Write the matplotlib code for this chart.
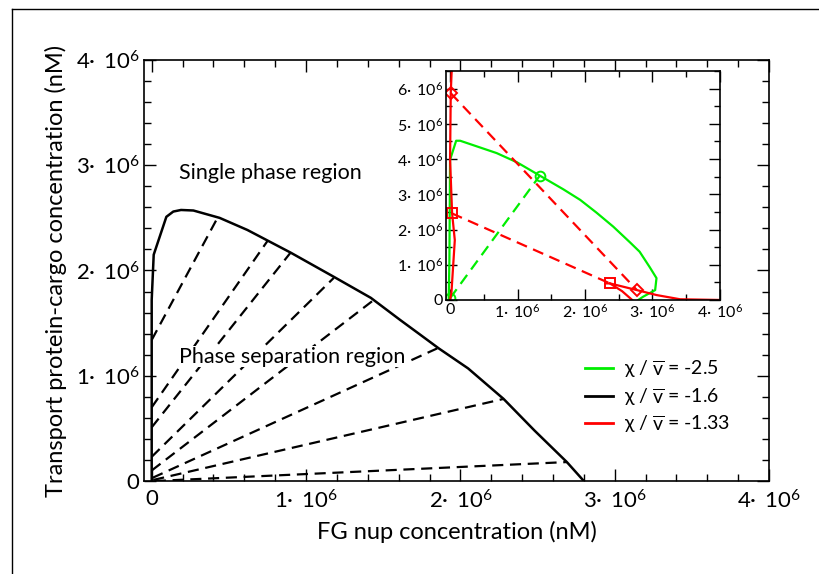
import numpy as np
import matplotlib
matplotlib.use("Agg")
import matplotlib.pyplot as plt
from matplotlib.ticker import MultipleLocator, FuncFormatter
from matplotlib.lines import Line2D

plt.rcParams["font.family"] = ["Lato", "DejaVu Sans"]
plt.rcParams["mathtext.default"] = "regular"

GREEN = "#00EE00"
RED = "#FF0000"
M = 1e6

# ---- main panel: binodal for chi/v = -1.6 (units of 1e6 nM) ----
bin_x = [0, 0, 0.013, 0.095, 0.14, 0.19, 0.27, 0.44, 0.62, 0.90, 1.18, 1.42,
         1.61, 1.74, 1.86, 2.05, 2.28, 2.48, 2.69, 2.80]
bin_y = [0, 1.72, 2.15, 2.51, 2.56, 2.575, 2.57, 2.50, 2.385, 2.17, 1.94, 1.74,
         1.53, 1.39, 1.26, 1.07, 0.78, 0.48, 0.18, 0.0]

# tie lines: dilute end -> dense end
tie_x0 = [0, 0, 0, 0, 0, 0.005, 0.01, 0.02]
tie_y0 = [1.34, 0.70, 0.51, 0.23, 0.10, 0.03, 0.01, 0.0]
tie_x1 = [0.43, 0.75, 0.90, 1.18, 1.43, 1.85, 2.28, 2.69]
tie_y1 = [2.51, 2.28, 2.17, 1.93, 1.71, 1.26, 0.78, 0.18]

# ---- inset: chi/v = -2.5 (green) and -1.33 (red) ----
g_x = [-0.02, -0.01, 0.0, 0.09, 0.15, 0.69, 0.99, 1.33, 1.68, 1.93, 2.17, 2.42,
       2.67, 2.81, 2.96, 3.06, 3.04, 2.86, 2.79]
g_y = [0, 1.14, 3.98, 4.52, 4.52, 4.17, 3.91, 3.53, 3.14, 2.84, 2.48, 2.08,
       1.63, 1.37, 0.93, 0.62, 0.28, 0.09, 0]
g_tie_x = [0.0, 1.33]
g_tie_y = [0.05, 3.53]

r_left_x = [0.0, 0.02, 0.07, 0.03, 0.0, 0.01, 0.03]
r_left_y = [0, 0.2, 1.70, 2.46, 3.98, 5.87, 6.8]
r_right_x = [2.30, 2.37, 2.77, 3.06, 3.41, 4.0]
r_right_y = [0.47, 0.47, 0.28, 0.14, 0.02, 0.0]
r_low_x = [2.37, 2.55, 2.70]
r_low_y = [0.47, 0.25, 0.0]
r_sq_x = [0.025, 2.37]
r_sq_y = [2.46, 0.47]
r_dm_x = [0.01, 2.77]
r_dm_y = [5.87, 0.28]

labels = [r"χ / $\overline{v}$ = -2.5", r"χ / $\overline{v}$ = -1.6",
          r"χ / $\overline{v}$ = -1.33"]


def sci(v, pos):
    n = int(round(v / M))
    if n == 0:
        return "0"
    return f"{n}·\u2009 10$^{{6}}$"


def style(ax, major, minor, fs, mlen, nlen):
    ax.xaxis.set_major_locator(MultipleLocator(major[0] * M))
    ax.xaxis.set_minor_locator(MultipleLocator(minor[0] * M))
    ax.yaxis.set_major_locator(MultipleLocator(major[1] * M))
    ax.yaxis.set_minor_locator(MultipleLocator(minor[1] * M))
    ax.xaxis.set_major_formatter(FuncFormatter(sci))
    ax.yaxis.set_major_formatter(FuncFormatter(sci))
    ax.tick_params(which="both", direction="in", top=True, right=True,
                   labelsize=fs, width=1.0)
    ax.tick_params(which="major", length=mlen)
    ax.tick_params(which="minor", length=nlen)
    for s in ax.spines.values():
        s.set_linewidth(1.2)


fig = plt.figure(figsize=(8.19, 5.74), dpi=100)

# outer frame (top and left edges only)
fig.add_artist(Line2D([0.0147, 1.0], [0.9843, 0.9843], color="black", lw=1.0))
fig.add_artist(Line2D([0.0147, 0.0147], [0.0, 0.9843], color="black", lw=1.0))

ax = fig.add_axes([0.1758, 0.162, 0.7632, 0.7335])
ax.plot(np.array(bin_x) * M, np.array(bin_y) * M, color="black", lw=1.8)
for x0, y0, x1, y1 in zip(tie_x0, tie_y0, tie_x1, tie_y1):
    ax.plot([x0 * M, x1 * M], [y0 * M, y1 * M], color="black", lw=1.6,
            ls=(0, (5, 3)))
ax.set_xlim(-0.05 * M, 4.0 * M)
ax.set_ylim(0, 4.0 * M)
style(ax, (1, 1), (0.2, 0.2), 16, 8.5, 5)
ax.tick_params(axis="x", which="major", pad=6)
ax.set_xlabel("FG nup concentration (nM)", fontsize=17, labelpad=6)
ax.set_ylabel("Transport protein-cargo concentration (nM)", fontsize=17,
              labelpad=6)
ax.text(0.175 * M, 2.93 * M, "Single phase region", fontsize=15.5,
        va="center", ha="left")
ax.text(0.18 * M, 1.18 * M, "Phase separation region", fontsize=15.5,
        va="center", ha="left",
        bbox=dict(facecolor="white", edgecolor="none", pad=0.5))

handles = [Line2D([], [], color=GREEN, lw=2), Line2D([], [], color="black", lw=2),
           Line2D([], [], color=RED, lw=2)]
ax.legend(handles, labels, loc="upper left", bbox_to_anchor=(0.69, 0.315),
          frameon=False, fontsize=14, handlelength=1.45, handletextpad=0.55,
          labelspacing=0.3, borderpad=0)

# inset
ins = fig.add_axes([0.5446, 0.4774, 0.3344, 0.3989])
ins.plot(np.array(g_x) * M, np.array(g_y) * M, color=GREEN, lw=1.6)
ins.plot(np.array(g_tie_x) * M, np.array(g_tie_y) * M, color=GREEN, lw=1.6,
         ls=(0, (5, 3)), marker="o", ms=7, mfc="none", mew=1.4)
ins.plot(np.array(r_left_x) * M, np.array(r_left_y) * M, color=RED, lw=1.6)
ins.plot(np.array(r_right_x) * M, np.array(r_right_y) * M, color=RED, lw=1.6)
ins.plot(np.array(r_low_x) * M, np.array(r_low_y) * M, color=RED, lw=1.6)
ins.plot(np.array(r_sq_x) * M, np.array(r_sq_y) * M, color=RED, lw=1.6,
         ls=(0, (5, 3)), marker="s", ms=6.5, mfc="none", mew=1.4)
ins.plot(np.array(r_dm_x) * M, np.array(r_dm_y) * M, color=RED, lw=1.6,
         ls=(0, (5, 3)), marker="D", ms=6, mfc="none", mew=1.4)
ins.set_xlim(-0.06 * M, 4.0 * M)
ins.set_ylim(0, 6.5 * M)
style(ins, (1, 1), (0.5, 0.5), 11.5, 8, 4.5)
ins.tick_params(which="major", pad=2)

fig.savefig("out.png", dpi=100)
